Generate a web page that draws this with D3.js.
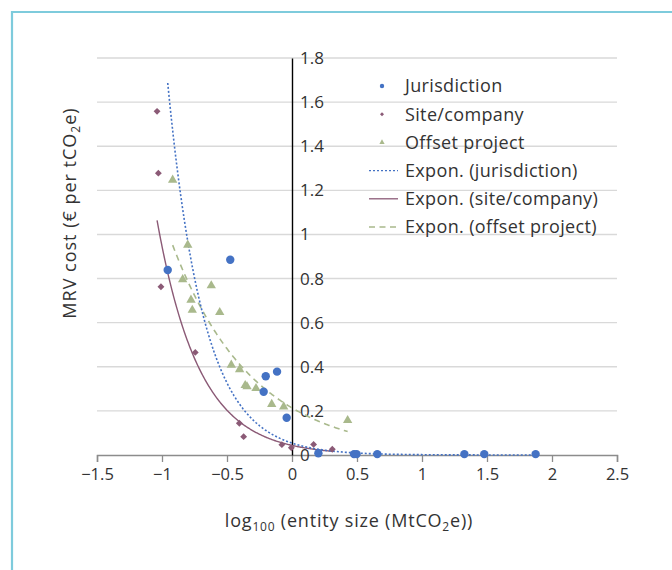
<!DOCTYPE html>
<html><head><meta charset="utf-8">
<script src="https://cdn.jsdelivr.net/npm/d3@7/dist/d3.min.js"></script>
<style>
html,body{margin:0;padding:0;background:#fff;}
text{font-family:"Open Sans",sans-serif;fill:#333;}
</style></head>
<body>
<script>
// ---- data ----
const jurX = [-0.956, -0.475, -0.218, -0.202, -0.115, -0.041, 0.203, 0.477, 0.497, 0.656, 1.326, 1.479, 1.874];
const jurY = [0.839, 0.885, 0.287, 0.357, 0.378, 0.169, 0.008, 0.004, 0.004, 0.004, 0.004, 0.004, 0.004];
const siteX = [-1.038, -1.028, -1.008, -0.744, -0.405, -0.372, -0.078, -0.005, 0.166, 0.31];
const siteY = [1.558, 1.278, 0.763, 0.465, 0.144, 0.083, 0.047, 0.033, 0.048, 0.026];
const offX = [-0.918, -0.802, -0.841, -0.777, -0.767, -0.621, -0.556, -0.467, -0.403, -0.360, -0.346, -0.277, -0.156, -0.064, 0.428];
const offY = [1.247, 0.952, 0.796, 0.703, 0.657, 0.768, 0.647, 0.408, 0.388, 0.316, 0.310, 0.302, 0.230, 0.219, 0.157];
// exponential trendline coefficients y = a * exp(b * x)
const trendA = [0.054, 0.0435, 0.2135];
const trendB = [-3.6, -3.08, -1.628];
const xTicks = [-1.5, -1, -0.5, 0, 0.5, 1, 1.5, 2, 2.5];
const yTicks = [0, 0.2, 0.4, 0.6, 0.8, 1, 1.2, 1.4, 1.6, 1.8];
const legendLabels = ["Jurisdiction", "Site/company", "Offset project", "Expon. (jurisdiction)", "Expon. (site/company)", "Expon. (offset project)"];

const W = 672, H = 570;
const svg = d3.select("body").append("svg").attr("width", W).attr("height", H);

// frame
svg.append("path").attr("d", `M12,570 L12,12 L672,12`).attr("fill","none")
  .attr("stroke","#7ecbdc").attr("stroke-width",2.2);

const x = d3.scaleLinear().domain([-1.5, 2.5]).range([97, 617]);
const y = d3.scaleLinear().domain([0, 1.8]).range([455, 58]);

const fmt = d => d === 0 ? "0" : String(d).replace("-", "\u2212");

// gridlines
svg.append("g").selectAll("line").data(yTicks.filter(d => d > 0)).join("line")
  .attr("x1", x(-1.5)).attr("x2", x(2.5))
  .attr("y1", d => y(d)).attr("y2", d => y(d))
  .attr("stroke", "#d9d9d9").attr("stroke-width", 1.4);

// x axis
const xAxis = d3.axisBottom(x).tickValues(xTicks).tickSize(7).tickFormat(fmt);
const gx = svg.append("g").attr("transform", `translate(0,${y(0)})`).call(xAxis);
gx.select(".domain").attr("stroke", "#8c8c8c").attr("stroke-width", 1.5);
gx.selectAll(".tick line").attr("stroke", "#8c8c8c").attr("stroke-width", 1.3);
gx.selectAll(".tick text").attr("font-size", 16.5).attr("font-family", "Open Sans").attr("fill", "#333").attr("dy", "0.93em");

// y axis (at x=0)
const yAxis = d3.axisRight(y).tickValues(yTicks).tickSize(0).tickPadding(8).tickFormat(fmt);
const gy = svg.append("g").attr("transform", `translate(${x(0)},0)`).call(yAxis);
gy.select(".domain").attr("stroke", "#000").attr("stroke-width", 1.4);
gy.selectAll(".tick text").attr("font-size", 17).attr("font-family", "Open Sans").attr("fill", "#333");

const colJ = "#4472c4", colS = "#8b5a76", colO = "#a9b98c";

// trendlines
function trend(xs, k) {
  const [lo, hi] = d3.extent(xs);
  const pts = d3.range(0, 201).map(i => {
    const xv = lo + (hi - lo) * i / 200;
    return [xv, trendA[k] * Math.exp(trendB[k] * xv)];
  });
  return d3.line().x(d => x(d[0])).y(d => y(d[1]))(pts);
}
svg.append("path").attr("d", trend(offX, 2)).attr("fill", "none").attr("stroke", colO)
  .attr("stroke-width", 1.6).attr("stroke-dasharray", "6,4.5");
svg.append("path").attr("d", trend(siteX, 1)).attr("fill", "none").attr("stroke", colS)
  .attr("stroke-width", 1.4);
svg.append("path").attr("d", trend(jurX, 0)).attr("fill", "none").attr("stroke", colJ)
  .attr("stroke-width", 1.6).attr("stroke-dasharray", "2,2");

// points
const diamond = d3.symbol().type(d3.symbolDiamond2).size(30);
const tri = d3.symbol().type(d3.symbolTriangle).size(38);
svg.append("g").selectAll("path").data(offX.map((v, i) => [v, offY[i]])).join("path")
  .attr("d", tri).attr("transform", d => `translate(${x(d[0])},${y(d[1])})`).attr("fill", colO);
svg.append("g").selectAll("path").data(siteX.map((v, i) => [v, siteY[i]])).join("path")
  .attr("d", diamond).attr("transform", d => `translate(${x(d[0])},${y(d[1])})`).attr("fill", colS);
svg.append("g").selectAll("circle").data(jurX.map((v, i) => [v, jurY[i]])).join("circle")
  .attr("cx", d => x(d[0])).attr("cy", d => y(d[1])).attr("r", 4.2).attr("fill", colJ);

// legend
const lg = svg.append("g");
const ly0 = 86, ldy = 28.2, ltx = 405;
legendLabels.forEach((lab, i) => {
  const yy = ly0 + i * ldy;
  lg.append("text").attr("x", ltx).attr("y", yy).attr("dy", "0.35em")
    .attr("font-size", 18).attr("letter-spacing", 0.35).text(lab);
  if (i === 0) lg.append("circle").attr("cx", 382).attr("cy", yy).attr("r", 2.2).attr("fill", colJ);
  if (i === 1) lg.append("path").attr("d", d3.symbol().type(d3.symbolDiamond2).size(10)).attr("transform", `translate(382,${yy})`).attr("fill", colS);
  if (i === 2) lg.append("path").attr("d", d3.symbol().type(d3.symbolTriangle).size(12)).attr("transform", `translate(382,${yy})`).attr("fill", colO);
  if (i >= 3) {
    const st = [[colJ, "2,2", 1.4], [colS, null, 1.3], [colO, "6,4.5", 1.4]][i - 3];
    lg.append("line").attr("x1", 369).attr("x2", 398).attr("y1", yy).attr("y2", yy)
      .attr("stroke", st[0]).attr("stroke-width", st[2]).attr("stroke-dasharray", st[1]);
  }
});

// axis titles
const xt = svg.append("text").attr("x", 349).attr("y", 527).attr("text-anchor", "middle")
  .attr("font-size", 18).attr("letter-spacing", 0.8);
xt.append("tspan").text("log");
xt.append("tspan").attr("font-size", 12).attr("dy", 4).text("100");
xt.append("tspan").attr("dy", -4).text(" (entity size (MtCO");
xt.append("tspan").attr("font-size", 12).attr("dy", 4).text("2");
xt.append("tspan").attr("dy", -4).text("e))");

const yt = svg.append("text").attr("transform", "translate(76,213) rotate(-90)").attr("text-anchor", "middle")
  .attr("font-size", 18).attr("letter-spacing", 1.0);
yt.append("tspan").text("MRV cost (\u20ac per tCO");
yt.append("tspan").attr("font-size", 12).attr("dy", 4).text("2");
yt.append("tspan").attr("dy", -4).text("e)");
</script>
</body></html>
